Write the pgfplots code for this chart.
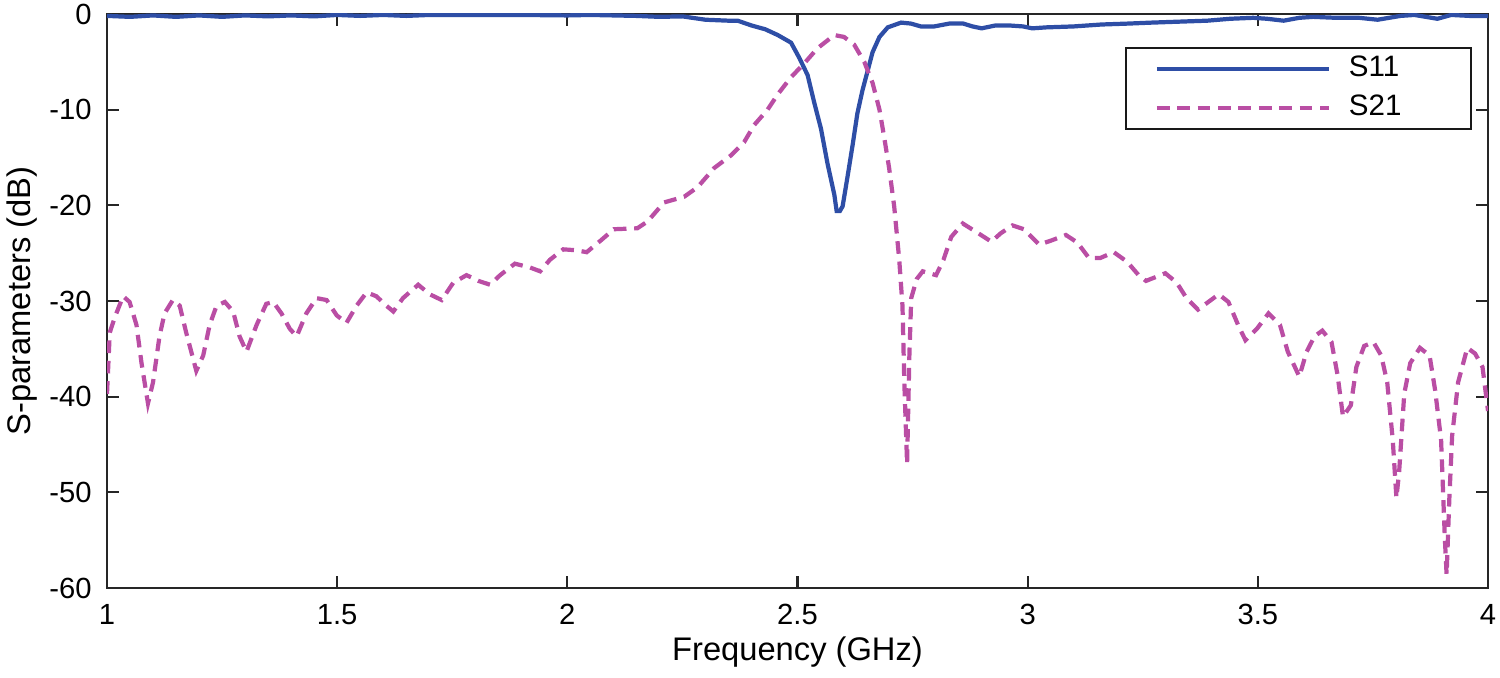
\documentclass[border=0pt]{standalone}
\usepackage{fontspec}
\setmainfont{Liberation Sans}
\usepackage{pgfplots}
\pgfplotsset{compat=1.18}
\definecolor{sblue}{RGB}{46,78,166}
\definecolor{smag}{RGB}{186,78,164}

\begin{document}
\begin{tikzpicture}
\begin{axis}[
    width=13.81cm, height=5.74cm, scale only axis,
    xmin=1, xmax=4, ymin=-60, ymax=0,
    xtick={1,1.5,2,2.5,3,3.5,4},
    ytick={-60,-50,-40,-30,-20,-10,0},
    tick align=inside,
    major tick length=1.2mm,
    axis line style={line width=0.6pt, black!85},
    every tick/.style={line width=0.6pt, black!85},
    /pgf/number format/assume math mode=true,
    tick label style={font=\fontsize{8.3}{10}\selectfont},
    xticklabel style={yshift=-0.4mm},
    yticklabel style={xshift=-0.3mm},
    label style={font=\fontsize{9.3}{11}\selectfont},
    xlabel={Frequency (GHz)},
    ylabel={S-parameters (dB)},
    xlabel style={at={(axis description cs:0.5,-0.112)}, anchor=center},
    ylabel style={at={(axis description cs:-0.0616,0.5)}, anchor=center, rotate=0},
    legend style={at={(0.9884,0.9425)}, anchor=north east, draw=black!90, line width=0.6pt,
      font=\fontsize{8.4}{10}\selectfont, inner xsep=0pt, inner ysep=0.4pt,
      row sep=0pt, column sep=0pt, nodes={inner sep=0pt, text width=1.22cm}},
    legend cell align=left,
    legend image code/.code={
      \draw[#1] (0.31cm,0cm) -- (2.03cm,0cm);
      \path[draw=none, fill=none] (0cm,-0.195cm) rectangle (2.23cm,0.195cm);},
]
\coordinate (sw) at (rel axis cs:0,0);
\coordinate (ne) at (rel axis cs:1,1);
\addplot[color=sblue, line width=1.2pt] coordinates {
(1.00,-0.2) (1.05,-0.3) (1.10,-0.15) (1.15,-0.3) (1.20,-0.15) (1.25,-0.3) (1.30,-0.15)
(1.35,-0.25) (1.40,-0.15) (1.45,-0.25) (1.50,-0.1) (1.55,-0.2) (1.60,-0.1) (1.65,-0.2)
(1.70,-0.1) (1.80,-0.1) (1.90,-0.1) (2.00,-0.15) (2.05,-0.1) (2.10,-0.15) (2.15,-0.2)
(2.20,-0.3) (2.25,-0.25) (2.30,-0.6) (2.35,-0.7) (2.37,-0.7) (2.40,-1.2) (2.43,-1.6)
(2.457,-2.2) (2.486,-3.0) (2.504,-4.6) (2.522,-6.4) (2.536,-9.2) (2.551,-12.0)
(2.565,-15.6) (2.580,-18.9) (2.585,-20.6) (2.592,-20.6) (2.598,-20.1) (2.609,-16.9)
(2.620,-13.6) (2.630,-10.4) (2.641,-8.0) (2.652,-6.0) (2.663,-4.0) (2.678,-2.4)
(2.696,-1.4) (2.725,-0.9) (2.746,-1.0) (2.768,-1.3) (2.797,-1.3) (2.83,-1.0) (2.86,-1.0)
(2.88,-1.3) (2.90,-1.5) (2.93,-1.2) (2.96,-1.2) (2.99,-1.3) (3.01,-1.5) (3.04,-1.4)
(3.10,-1.3) (3.16,-1.1) (3.22,-1.0) (3.27,-0.9) (3.33,-0.8) (3.39,-0.7) (3.44,-0.5)
(3.49,-0.4) (3.52,-0.5) (3.556,-0.7) (3.59,-0.4) (3.62,-0.3) (3.67,-0.4) (3.72,-0.4)
(3.76,-0.6) (3.81,-0.2) (3.84,-0.1) (3.89,-0.5) (3.92,-0.1) (3.96,-0.2) (4.00,-0.2)
};
\addlegendentry{S11}
\addplot[color=smag, line width=1.2pt, dash pattern=on 3.6pt off 2.2pt] coordinates {
(1.000,-39.7) (1.006,-33.3) (1.017,-31.7) (1.035,-29.5) (1.049,-30.1) (1.064,-32.5)
(1.075,-36.5) (1.089,-40.7) (1.100,-38.5) (1.114,-33.7) (1.125,-31.3) (1.143,-29.9)
(1.158,-30.5) (1.172,-33.3) (1.194,-37.3) (1.209,-35.7) (1.223,-32.5) (1.238,-30.5)
(1.256,-30.1) (1.274,-31.1) (1.288,-33.7) (1.303,-35.3) (1.325,-32.5) (1.346,-30.3)
(1.361,-30.1) (1.379,-31.3) (1.397,-32.9) (1.412,-33.7) (1.433,-31.3) (1.455,-29.7)
(1.477,-29.9) (1.499,-31.5) (1.520,-32.3) (1.542,-30.5) (1.564,-29.1) (1.585,-29.5)
(1.607,-30.5) (1.622,-31.1) (1.643,-29.7) (1.676,-28.3) (1.701,-29.3) (1.727,-29.9)
(1.752,-28.1) (1.781,-27.3) (1.807,-27.9) (1.832,-28.3) (1.854,-27.3) (1.886,-26.1)
(1.919,-26.5) (1.941,-26.9) (1.962,-25.7) (1.991,-24.6) (2.020,-24.7) (2.042,-24.9)
(2.072,-23.7) (2.101,-22.5) (2.152,-22.4) (2.174,-21.7) (2.210,-19.7) (2.254,-19.1)
(2.283,-18.1) (2.319,-16.1) (2.355,-14.8) (2.384,-13.4) (2.406,-11.6) (2.435,-10.0)
(2.457,-8.4) (2.486,-6.6) (2.514,-5.2) (2.543,-3.6) (2.580,-2.2) (2.601,-2.4)
(2.623,-3.2) (2.645,-5.0) (2.663,-7.2) (2.678,-10.0) (2.688,-12.8) (2.699,-16.1)
(2.710,-20.1) (2.721,-25.7) (2.728,-30.5) (2.732,-38.5) (2.738,-47.0) (2.743,-35.7)
(2.747,-29.7) (2.759,-27.7) (2.772,-26.9) (2.801,-27.3) (2.817,-25.7) (2.834,-23.3)
(2.859,-21.9) (2.892,-22.9) (2.921,-23.8) (2.942,-22.9) (2.967,-22.1) (2.992,-22.5)
(3.025,-24.1) (3.050,-23.7) (3.083,-23.1) (3.108,-23.9) (3.133,-25.5) (3.158,-25.5)
(3.187,-24.9) (3.216,-25.9) (3.241,-27.3) (3.257,-27.9) (3.299,-27.1) (3.324,-28.1)
(3.345,-29.7) (3.370,-30.9) (3.415,-29.3) (3.436,-30.1) (3.457,-32.5) (3.473,-34.1)
(3.498,-32.9) (3.523,-31.3) (3.548,-32.5) (3.565,-35.3) (3.590,-37.9) (3.606,-35.3)
(3.623,-33.7) (3.640,-33.1) (3.660,-34.3) (3.673,-37.7) (3.685,-42.1) (3.702,-40.9)
(3.714,-36.9) (3.731,-34.7) (3.751,-34.3) (3.768,-35.7) (3.781,-38.5) (3.793,-44.5)
(3.801,-50.6) (3.807,-47.8) (3.818,-39.7) (3.831,-36.5) (3.852,-34.9) (3.873,-35.7)
(3.885,-39.3) (3.898,-44.5) (3.906,-54.6) (3.910,-58.6) (3.916,-50.6) (3.922,-44.1)
(3.935,-38.5) (3.955,-34.9) (3.972,-35.5) (3.988,-36.9) (4.000,-41.5)
};
\addlegendentry{S21}
\end{axis}
\pgfresetboundingbox
\path ([shift={(-1.07cm,-0.90cm)}]sw) rectangle ([shift={(0.12cm,0.14cm)}]ne);
\end{tikzpicture}
\end{document}
